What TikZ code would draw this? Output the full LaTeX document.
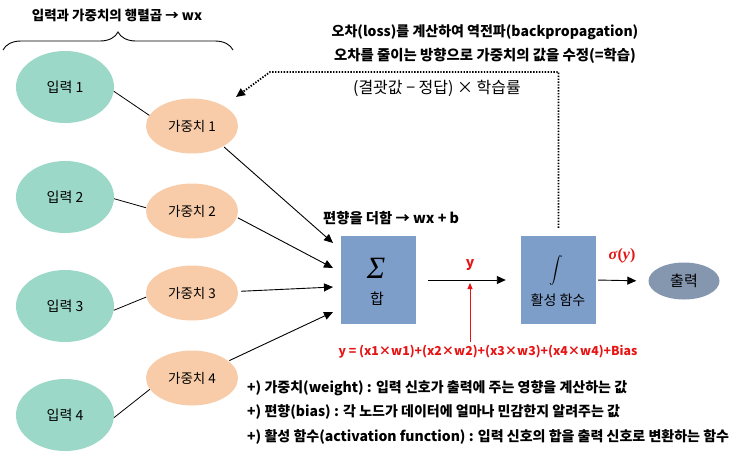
\documentclass[tikz,border=0pt]{standalone}
\usepackage{graphicx}
\usepackage[no-math]{fontspec}
\setmainfont{Noto Sans CJK KR}
\newfontfamily\serifgr{Liberation Serif}
\usetikzlibrary{arrows.meta,decorations.pathreplacing,shapes.geometric,calc}
\definecolor{tealin}{RGB}{155,216,200}
\definecolor{peach}{RGB}{248,204,168}
\definecolor{boxblue}{RGB}{126,158,202}
\definecolor{outgray}{RGB}{133,150,175}
\definecolor{redtxt}{RGB}{230,20,20}
\begin{document}
\begin{tikzpicture}[x=1pt,y=-1pt,
  inp/.style={ellipse,fill=tealin,minimum width=98pt,minimum height=72pt,inner sep=0pt,font=\fontsize{14}{15}\selectfont},
  wt/.style={ellipse,fill=peach,minimum width=92pt,minimum height=55pt,inner sep=0pt,font=\fontsize{13.5}{14}\selectfont},
  blk/.style={rectangle,fill=boxblue,minimum width=75pt,minimum height=88pt,inner sep=0pt},
  plain/.style={draw=black,line width=0.8pt},
  arr/.style={draw=black,line width=0.9pt,-{Triangle[length=9pt,width=8pt]}},
  redarr/.style={draw=redtxt,line width=0.9pt,-{Triangle[length=6pt,width=5pt]}},
  dotarr/.style={draw=black,line width=1.8pt,dash pattern=on 1.4pt off 1.5pt,-{Triangle[length=9pt,width=8pt]}},
  hd/.style={font=\bfseries\fontsize{13.5}{14}\selectfont},
  bl/.style={font=\bfseries\fontsize{14}{15}\selectfont,anchor=west,inner sep=0pt},
]
\useasboundingbox (0,0) rectangle (750,459);

% inputs
\node[inp] (in1) at (65,87) {입력 1};
\node[inp] (in2) at (65,197) {입력 2};
\node[inp] (in3) at (65,306) {입력 3};
\node[inp] (in4) at (65,415) {입력 4};
% weights
\node[wt] (w1) at (192,126) {가중치 1};
\node[wt] (w2) at (192,211) {가중치 2};
\node[wt] (w3) at (192,293) {가중치 3};
\node[wt] (w4) at (192,378) {가중치 4};

\draw[plain] (in1.-5) -- (w1.166);
\draw[plain] (in2.-2) -- (w2.176);
\draw[plain] (in3.-5) -- (w3.185);
\draw[plain] (in4.-3) -- (w4.195);

% blocks
\node[blk] (sum) at (378.5,280) {};
\node[font=\serifgr\itshape\fontsize{31}{32}\selectfont] (sig) at (376,268) {Σ};
\node[font=\fontsize{15}{16}\selectfont] (hap) at (377,299) {합};
\node[blk] (act) at (558.5,280) {};
\node (intg) at (556,270) {\scalebox{1.35}{$\displaystyle\int$}};
\node[font=\fontsize{14}{15}\selectfont] (hwal) at (558,300) {활성 함수};
\node[ellipse,fill=outgray,minimum width=71pt,minimum height=37pt,inner sep=0pt,font=\fontsize{15}{16}\selectfont] (out) at (684,281) {출력};

% arrow end coordinates
\coordinate (a1) at (333,243);
\coordinate (a2) at (333,268);
\coordinate (a3) at (333,287);
\coordinate (a4) at (333,312);
\draw[arr,shorten <=1pt] (w1.-33) -- (a1);
\draw[arr,shorten <=1pt] (w2.-8) -- (a2);
\draw[arr,shorten <=3pt] (w3.2) -- (a3);
\draw[arr,shorten <=1pt] (w4.25) -- (a4);

\draw[arr,shorten <=12pt,shorten >=15pt] (sum) -- (act);
\draw[arr,shorten <=2pt,shorten >=12pt] (act.east) -- (out.west);

% red formula
\node[font=\bfseries\fontsize{12.3}{13}\selectfont,text=redtxt] (form) at (488,352) {y = (x1×w1)+(x2×w2)+(x3×w3)+(x4×w4)+Bias};
\coordinate (yin) at (470,283);
\draw[redarr] (form.north -| yin) -- (yin);
\node[font=\bfseries\fontsize{14}{15}\selectfont,text=redtxt] (ylab) at (470,265) {y};
\node[text=redtxt,font=\serifgr\bfseries\fontsize{16}{17}\selectfont] (sigy) at (622,256) {\textit{σ}(\textit{y})};

% dotted feedback
\coordinate (d3) at (270,72);
\coordinate (tipc) at (236,97);
\draw[dotarr] ([yshift=8pt]act.north) |- (d3) -- (tipc);

% headings
\node[hd] (t1) at (117,15) {입력과 가중치의 행렬곱 → wx};
\draw[decorate,decoration={brace,amplitude=18pt},line width=0.9pt] (3,50) -- (233,50);
\node[hd,font=\bfseries\fontsize{14}{15}\selectfont] (t2) at (485,32) {오차(loss)를 계산하여 역전파(backpropagation)};
\node[hd,font=\bfseries\fontsize{14.4}{15}\selectfont] (t3) at (485,56) {오차를 줄이는 방향으로 가중치의 값을 수정(=학습)};
\node[font=\fontsize{16}{17}\selectfont] (t4) at (437,88) {(결괏값 − 정답) × 학습률};
\node[hd,font=\bfseries\fontsize{14.3}{15}\selectfont,anchor=west,inner sep=0pt] (t5) at (323,218) {편향을 더함 → wx + b};

% bullets
\node[bl] (b1) at (247,388) {+) 가중치(weight) : 입력 신호가 출력에 주는 영향을 계산하는 값};
\node[bl] (b2) at (247,412) {+) 편향(bias) : 각 노드가 데이터에 얼마나 민감한지 알려주는 값};
\node[bl] (b3) at (247,437) {+) 활성 함수(activation function) : 입력 신호의 합을 출력 신호로 변환하는 함수};
\end{tikzpicture}
\end{document}
